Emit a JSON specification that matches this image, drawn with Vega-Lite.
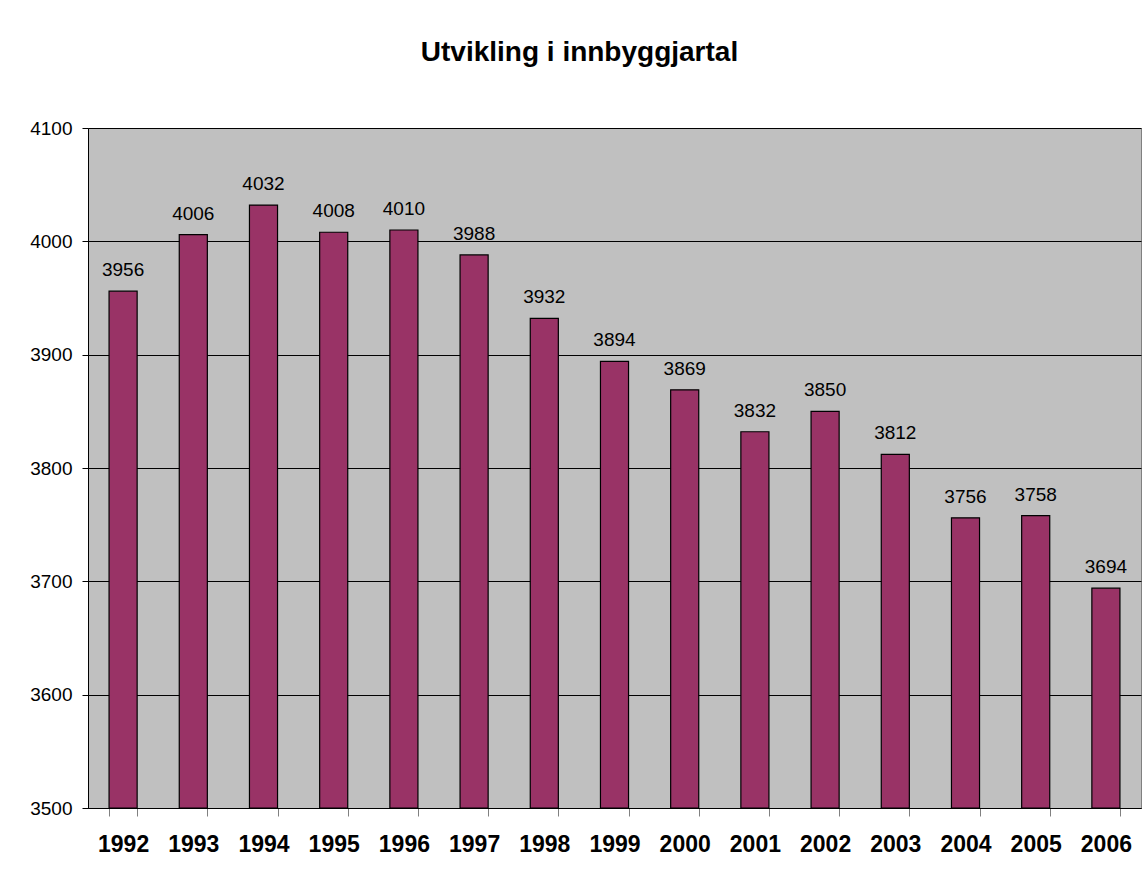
{
  "$schema": "https://vega.github.io/schema/vega-lite/v6.json",
  "autosize": "none",
  "width": 1053,
  "height": 680,
  "padding": {"left": 88, "top": 128, "right": 2, "bottom": 71},
  "background": "white",
  "title": {
    "text": "Utvikling i innbyggjartal",
    "font": "Liberation Sans",
    "fontSize": 28,
    "fontWeight": "bold",
    "color": "black",
    "anchor": "middle",
    "offset": 52,
    "dx": -35
  },
  "config": {
    "view": {"fill": "#C0C0C0", "stroke": "#808080", "strokeWidth": 1},
    "font": "Liberation Sans"
  },
  "data": {
    "values": [
      {"year": "1992", "pop": 3956},
      {"year": "1993", "pop": 4006},
      {"year": "1994", "pop": 4032},
      {"year": "1995", "pop": 4008},
      {"year": "1996", "pop": 4010},
      {"year": "1997", "pop": 3988},
      {"year": "1998", "pop": 3932},
      {"year": "1999", "pop": 3894},
      {"year": "2000", "pop": 3869},
      {"year": "2001", "pop": 3832},
      {"year": "2002", "pop": 3850},
      {"year": "2003", "pop": 3812},
      {"year": "2004", "pop": 3756},
      {"year": "2005", "pop": 3758},
      {"year": "2006", "pop": 3694}
    ]
  },
  "encoding": {
    "x": {
      "field": "year",
      "type": "ordinal",
      "scale": {"paddingInner": 0.6, "paddingOuter": 0.3},
      "axis": {
        "title": null,
        "labelAngle": 0,
        "labelFont": "Liberation Sans",
        "labelFontSize": 23,
        "labelFontWeight": "bold",
        "labelColor": "black",
        "labelPadding": 17,
        "tickBand": "extent",
        "tickSize": 8,
        "tickColor": "#808080",
        "domainColor": "black",
        "grid": false
      }
    },
    "y": {
      "field": "pop",
      "type": "quantitative",
      "scale": {"domain": [3500, 4100], "zero": false, "nice": false},
      "axis": {
        "title": null,
        "values": [3500, 3600, 3700, 3800, 3900, 4000, 4100],
        "format": "d",
        "labelFont": "Liberation Sans",
        "labelFontSize": 19,
        "labelColor": "black",
        "labelPadding": 10,
        "tickSize": 6,
        "tickColor": "black",
        "domainColor": "black",
        "grid": true,
        "gridColor": "black",
        "gridOpacity": 1,
        "gridWidth": 1
      }
    }
  },
  "layer": [
    {
      "mark": {"type": "bar", "color": "#993366", "stroke": "black", "strokeWidth": 1.2},
      "encoding": {
        "y2": {"datum": 3500}
      }
    },
    {
      "mark": {"type": "text", "baseline": "bottom", "dy": -11, "fontSize": 19, "font": "Liberation Sans", "color": "black"},
      "encoding": {
        "text": {"field": "pop", "type": "quantitative", "format": "d"}
      }
    }
  ]
}
